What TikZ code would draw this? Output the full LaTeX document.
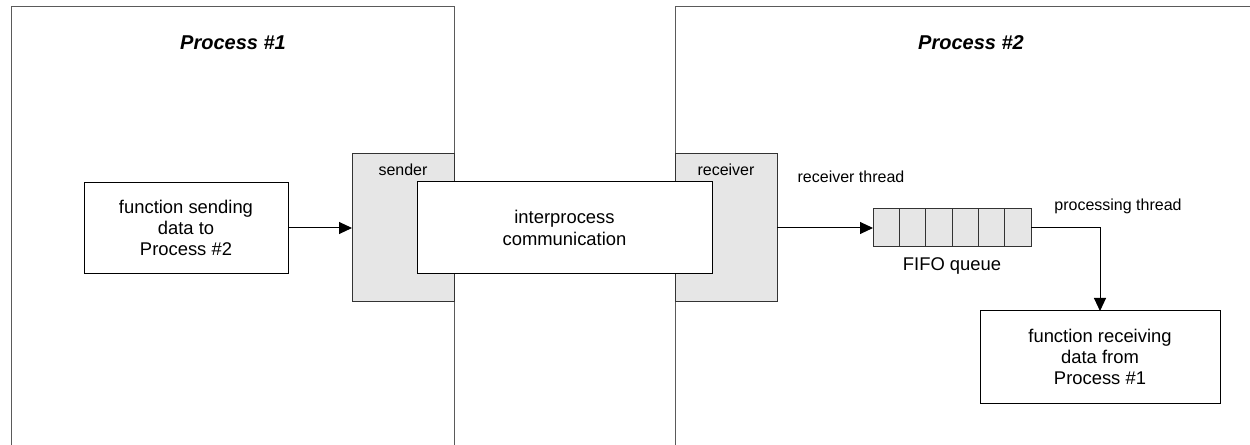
\documentclass[tikz,border=0pt]{standalone}
\usepackage{fontspec}
\setmainfont{Liberation Sans}
\usetikzlibrary{arrows.meta}
\definecolor{boxgray}{RGB}{230,230,230}
\definecolor{procline}{RGB}{90,90,90}
\begin{document}
\begin{tikzpicture}[x=0.75pt,y=-0.75pt,
  every node/.style={inner sep=0pt,outer sep=0pt},
  proc/.style={draw=procline,line width=0.75pt},
  box/.style={draw=black,line width=0.75pt,fill=white,align=center,
    font=\fontsize{13.8}{16}\selectfont},
  graybox/.style={draw=black!80,line width=0.75pt,fill=boxgray},
  small/.style={font=\fontsize{12}{14}\selectfont},
  title/.style={font=\fontsize{15}{18}\selectfont\bfseries\itshape},
  conn/.style={draw=black,line width=0.75pt,-{Triangle[length=9.75pt,width=9pt]}}]
\useasboundingbox (0,0) rectangle (1250,445);
\fill[white] (0,0) rectangle (1250,445);
% process frames
\coordinate (p1bl) at (11,445);
\coordinate (p1br) at (454,445);
\coordinate (p2bl) at (675,445);
\coordinate (p2tr) at (1250,7);
\draw[proc] (p1bl) |- (454,7) -- (p1br);
\draw[proc] (p2bl) |- (p2tr);
\node[title] (t1) at (233,43) {Process \#1};
\node[title] (t2) at (971,43) {Process \#2};
% sender / receiver
\node[graybox,minimum width=76.5pt,minimum height=111pt,
  label={[anchor=center,yshift=-12pt,small]north:sender}] (sender) at (403,228) {};
\node[graybox,minimum width=76.5pt,minimum height=111pt,
  label={[anchor=center,yshift=-12pt,small]north:receiver}] (receiver) at (726,228) {};
% ipc
\node[box,minimum width=221.25pt,minimum height=69pt] (ipc) at (564.5,228) {interprocess\\communication};
% function sending
\node[box,minimum width=153pt,minimum height=68.25pt] (fsend) at (186,228) {function sending\\data to\\Process \#2};
% fifo
\node[graybox,minimum width=118.5pt,minimum height=28.5pt] (fifo) at (952,228) {};
\foreach \i in {1,...,5}
  \draw[black!80,line width=0.75pt] ([xshift=\i*19.75pt]fifo.north west) -- ([xshift=\i*19.75pt]fifo.south west);
\node[font=\fontsize{13.8}{16}\selectfont] (fifolbl) at (952,266) {FIFO queue};
% function receiving
\node[box,minimum width=180pt,minimum height=69pt] (frecv) at (1100,357) {function receiving\\data from\\Process \#1};
% labels
\node[small] (rthread) at (851,177) {receiver thread};
\node[small] (pthread) at (1118,206) {processing thread};
% connectors
\draw[conn] (fsend.east) -- (sender.west);
\draw[conn] (receiver.east) -- (fifo.west);
\draw[conn] (fifo.east) -| (frecv.north);
\end{tikzpicture}
\end{document}
